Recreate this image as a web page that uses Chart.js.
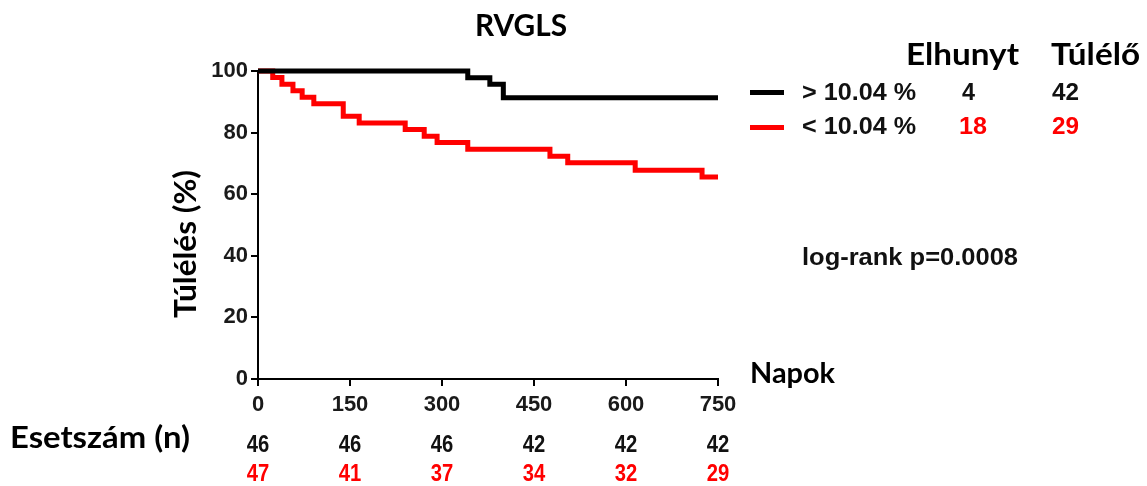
<!DOCTYPE html>
<html>
<head>
<meta charset="utf-8">
<script src="https://cdn.jsdelivr.net/npm/chart.js@4"></script>
<style>
  body { margin: 0; background: #fff; }
  #wrap { width: 1147px; height: 486px; }
</style>
</head>
<body>
<div id="wrap"><canvas id="km" width="1147" height="486"></canvas></div>
<script>
// data
const chartTitle = "RVGLS"
const xTicks = [0, 150, 300, 450, 600, 750]
const groupLabels = ["> 10.04 %", "< 10.04 %"]
const deaths = [4, 18]
const survivors = [42, 29]
const atRiskHigh = [46, 46, 46, 42, 42, 42]
const atRiskLow = [47, 41, 37, 34, 32, 29]

// Kaplan-Meier steps (day of event, survival after it)
const highDays = [0, 342, 378, 400, 750]
const highSurv = [100, 97.8, 95.7, 91.3, 91.3]
const lowDays = [0, 24, 39, 57, 72, 91, 139, 165, 240, 271, 292, 342, 476, 505, 615, 724, 750]
const lowSurv = [100, 97.9, 95.7, 93.6, 91.5, 89.4, 85.3, 83.1, 81.0, 78.8, 76.8, 74.6, 72.3, 70.2, 67.8, 65.6, 65.6]

const RED = "#ff0000"
const numFont = 'bold 23px "Liberation Sans", Arial, sans-serif'
const capFont = (px) => "bold " + px + "px Lato, sans-serif"

const toPoints = (xs, ys) => xs.map((x, i) => ({ x: x, y: ys[i] }))

// draw text from left edge x, stretched to width w
function put(ctx, text, x, y, w, font, color) {
  ctx.save()
  ctx.font = font
  ctx.fillStyle = color || "#000"
  ctx.textBaseline = "alphabetic"
  ctx.textAlign = "left"
  const m = ctx.measureText(text).width
  ctx.translate(x, y)
  ctx.scale(w / m, 1)
  ctx.fillText(text, 0, 0)
  ctx.restore()
}

const textPlugin = {
  id: "kmText",
  afterDraw: function (chart) {
    const ctx = chart.ctx
    put(ctx, chartTitle, 475, 36, 92, capFont(30))
    put(ctx, "Elhunyt", 906, 65, 113, capFont(30))
    put(ctx, "Túlélő", 1051, 65, 89, capFont(30))

    // legend rows
    ctx.save()
    ctx.fillStyle = "#000"
    ctx.fillRect(750, 90, 34, 5)
    ctx.fillStyle = RED
    ctx.fillRect(750, 125, 34, 5)
    ctx.restore()
    put(ctx, groupLabels[0], 802, 100, 114, numFont, "#111")
    put(ctx, String(deaths[0]), 962, 100, 13, numFont, "#111")
    put(ctx, String(survivors[0]), 1052, 100, 27, numFont, "#111")
    put(ctx, groupLabels[1], 802, 134, 114, numFont, "#111")
    put(ctx, String(deaths[1]), 959, 134, 28, numFont, RED)
    put(ctx, String(survivors[1]), 1052, 134, 27, numFont, RED)

    put(ctx, "log-rank p=0.0008", 802, 265, 216, numFont, "#111")
    put(ctx, "Napok", 750, 383, 85, capFont(28))
    put(ctx, "Esetszám (n)", 10, 448, 180, capFont(30))

    // y axis title, rotated
    ctx.save()
    ctx.translate(196, 318)
    ctx.rotate(-Math.PI / 2)
    put(ctx, "Túlélés (%)", 0, 0, 148, capFont(30))
    ctx.restore()

    // numbers at risk under the ticks
    const xs = chart.scales.x
    ctx.save()
    ctx.font = numFont
    ctx.textAlign = "center"
    ctx.textBaseline = "alphabetic"
    for (let i = 0; i < xTicks.length; i++) {
      const px = xs.getPixelForValue(xTicks[i])
      ctx.save()
      ctx.translate(px, 0)
      ctx.scale(0.88, 1)
      ctx.fillStyle = "#111"
      ctx.fillText(String(atRiskHigh[i]), 0, 452)
      ctx.fillStyle = RED
      ctx.fillText(String(atRiskLow[i]), 0, 481)
      ctx.restore()
    }
    ctx.restore()
  },
}

const axisCommon = {
  border: { display: true, color: "#000", width: 2 },
  grid: { display: true, drawOnChartArea: false, drawTicks: true, tickLength: 7, color: "#000", lineWidth: 2 },
}

const ctx = document.getElementById("km").getContext("2d")
const kmChart = new Chart(ctx, {
  type: "line",
  data: {
    datasets: [
      {
        label: groupLabels[0],
        data: toPoints(highDays, highSurv),
        borderColor: "#000",
        borderWidth: 5,
        stepped: "before",
        pointRadius: 0,
        fill: false,
        clip: false,
        order: 0,
      },
      {
        label: groupLabels[1],
        data: toPoints(lowDays, lowSurv),
        borderColor: RED,
        borderWidth: 5,
        stepped: "before",
        pointRadius: 0,
        fill: false,
        clip: false,
        order: 1,
      },
    ],
  },
  options: {
    responsive: false,
    animation: false,
    layout: { padding: { left: 198, right: 429, top: 71, bottom: 62 } },
    plugins: {
      legend: { display: false },
      tooltip: { enabled: false },
    },
    scales: {
      x: {
        type: "linear",
        min: 0,
        max: 750,
        afterBuildTicks: (s) => { s.ticks = xTicks.map((v) => ({ value: v })) },
        afterFit: (s) => { s.height = 45 },
        ticks: { font: { family: "Liberation Sans", size: 22, weight: "bold" }, color: "#1a1a1a", padding: 6, maxRotation: 0 },
        ...axisCommon,
      },
      y: {
        min: 0,
        max: 100,
        afterFit: (s) => { s.width = 60 },
        ticks: { stepSize: 20, font: { family: "Liberation Sans", size: 22, weight: "bold" }, color: "#1a1a1a", padding: 3 },
        ...axisCommon,
      },
    },
  },
  plugins: [textPlugin],
})
</script>
</body>
</html>
